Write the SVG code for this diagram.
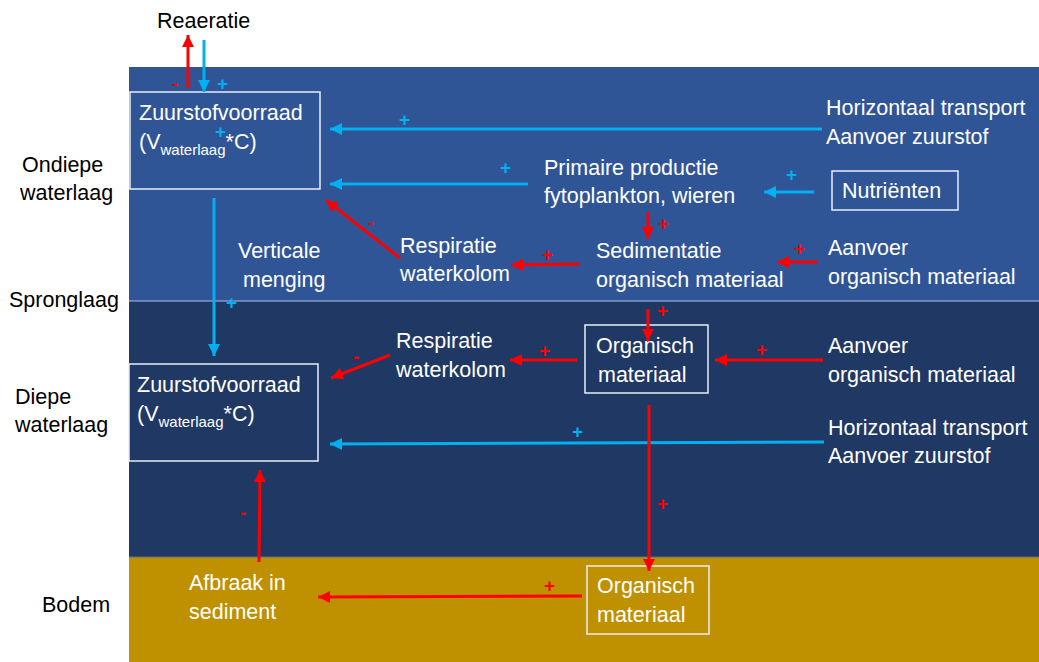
<svg xmlns="http://www.w3.org/2000/svg" width="1039" height="662" viewBox="0 0 1039 662">
<defs>
<marker id="ar" markerUnits="userSpaceOnUse" markerWidth="14" markerHeight="14" refX="12" refY="6" orient="auto"><path d="M0,0 L12,6 L0,12 Z" fill="#FF0000"/></marker>
<marker id="ab" markerUnits="userSpaceOnUse" markerWidth="14" markerHeight="14" refX="12" refY="6" orient="auto"><path d="M0,0 L12,6 L0,12 Z" fill="#00B0F0"/></marker>
<style>
text{font-family:"Liberation Sans",Arial,sans-serif;font-size:21.5px;fill:#FFFFFF}
.k{fill:#000000}
.sub{font-size:15px}
.box{fill:none;stroke:#E8EEF8;stroke-width:1.5}
.r{stroke:#FF0000;stroke-width:3;fill:none;marker-end:url(#ar)}
.b{stroke:#00B0F0;stroke-width:3;fill:none;marker-end:url(#ab)}
.pr{fill:#FF0000;font-size:19px;font-weight:bold}
.pb{fill:#00B0F0;font-size:19px;font-weight:bold}
</style>
</defs>
<rect width="1039" height="662" fill="#FFFFFF"/>
<g id="background">
<rect x="129" y="67" width="910" height="234" fill="#2F5597"/>
<rect x="129" y="301" width="910" height="256" fill="#203864"/>
<rect x="129" y="557" width="910" height="105" fill="#BF9000"/>
<line x1="129" y1="301" x2="1039" y2="301" stroke="#A9C0E8" stroke-width="1"/>
<line x1="129" y1="557" x2="1039" y2="557" stroke="#5A6E8F" stroke-width="1"/>
</g>
<g id="layer-labels">
<text class="k" x="157" y="28">Reaeratie</text>
<text class="k" x="22" y="172">Ondiepe</text>
<text class="k" x="20" y="200">waterlaag</text>
<text class="k" x="9" y="307">Spronglaag</text>
<text class="k" x="15" y="404">Diepe</text>
<text class="k" x="15" y="432">waterlaag</text>
<text class="k" x="42" y="612">Bodem</text>
</g>
<g id="zuurstof-ondiep">
<rect class="box" x="130" y="92" width="190" height="97"/>
<text x="139" y="120">Zuurstofvoorraad</text>
<text x="139" y="149">(V<tspan class="sub" dy="6">waterlaag</tspan><tspan dy="-6">*C)</tspan></text>
</g>
<g id="zuurstof-diep">
<rect class="box" x="129" y="364" width="189" height="97"/>
<text x="137" y="392">Zuurstofvoorraad</text>
<text x="137" y="421">(V<tspan class="sub" dy="6">waterlaag</tspan><tspan dy="-6">*C)</tspan></text>
</g>
<g id="horizontaal-ondiep">
<text x="826" y="115">Horizontaal transport</text>
<text x="826" y="144">Aanvoer zuurstof</text>
</g>
<g id="primaire-productie">
<text x="544" y="175">Primaire productie</text>
<text x="544" y="203">fytoplankton, wieren</text>
</g>
<g id="nutrienten">
<rect class="box" x="832" y="171" width="126" height="39"/>
<text x="842" y="198">Nutriënten</text>
</g>
<g id="verticale-menging">
<text x="238" y="258">Verticale</text>
<text x="243" y="287">menging</text>
</g>
<g id="respiratie-ondiep">
<text x="400" y="253">Respiratie</text>
<text x="400" y="281">waterkolom</text>
</g>
<g id="sedimentatie">
<text x="596" y="258">Sedimentatie</text>
<text x="596" y="287">organisch materiaal</text>
</g>
<g id="aanvoer-org-ondiep">
<text x="828" y="255">Aanvoer</text>
<text x="828" y="284">organisch materiaal</text>
</g>
<g id="respiratie-diep">
<text x="396" y="348">Respiratie</text>
<text x="396" y="377">waterkolom</text>
</g>
<g id="organisch-diep">
<rect class="box" x="585" y="325" width="123" height="68"/>
<text x="596" y="353">Organisch</text>
<text x="598" y="382">materiaal</text>
</g>
<g id="aanvoer-org-diep">
<text x="828" y="353">Aanvoer</text>
<text x="828" y="382">organisch materiaal</text>
</g>
<g id="horizontaal-diep">
<text x="828" y="435">Horizontaal transport</text>
<text x="828" y="463">Aanvoer zuurstof</text>
</g>
<g id="afbraak">
<text x="189" y="590">Afbraak in</text>
<text x="189" y="619">sediment</text>
</g>
<g id="organisch-bodem">
<rect class="box" x="587" y="566" width="122" height="68"/>
<text x="597" y="593">Organisch</text>
<text x="597" y="622">materiaal</text>
</g>
<g id="connectors">
<line class="r" x1="188" y1="88" x2="188" y2="35"/>
<line class="b" x1="204" y1="40" x2="204" y2="92"/>
<line class="b" x1="822" y1="129" x2="330" y2="129"/>
<line class="b" x1="528" y1="184" x2="330" y2="184"/>
<line class="b" x1="814" y1="192" x2="764" y2="192"/>
<line class="r" x1="648" y1="212" x2="648" y2="239"/>
<line class="r" x1="580" y1="264" x2="511" y2="265"/>
<line class="r" x1="818" y1="262" x2="777" y2="262"/>
<line class="r" x1="400" y1="258" x2="326" y2="200"/>
<line class="b" x1="214" y1="198" x2="214" y2="356"/>
<line class="r" x1="648" y1="309" x2="648" y2="341"/>
<line class="r" x1="577" y1="360" x2="510" y2="360"/>
<line class="r" x1="390" y1="355" x2="331" y2="378"/>
<line class="r" x1="823" y1="360" x2="715" y2="360"/>
<line class="b" x1="824" y1="442" x2="330" y2="444"/>
<line class="r" x1="649" y1="405" x2="649" y2="571"/>
<line class="r" x1="582" y1="596" x2="318" y2="597"/>
<line class="r" x1="259" y1="562" x2="260" y2="470"/>
</g>
<g id="signs">
<text class="pr" x="172" y="90">-</text>
<text class="pb" x="217" y="90">+</text>
<text class="pb" x="215" y="138">+</text>
<text class="pb" x="399" y="126">+</text>
<text class="pb" x="500" y="174">+</text>
<text class="pb" x="786" y="181">+</text>
<text class="pr" x="658" y="230">+</text>
<text class="pr" x="542" y="261">+</text>
<text class="pr" x="794" y="255">+</text>
<text class="pr" x="368" y="229">-</text>
<text class="pb" x="226" y="309">+</text>
<text class="pr" x="657" y="317">+</text>
<text class="pr" x="539" y="357">+</text>
<text class="pr" x="353" y="363">-</text>
<text class="pr" x="756" y="356">+</text>
<text class="pb" x="572" y="438">+</text>
<text class="pr" x="657" y="510">+</text>
<text class="pr" x="544" y="592">+</text>
<text class="pr" x="240" y="519">-</text>
</g>
</svg>
